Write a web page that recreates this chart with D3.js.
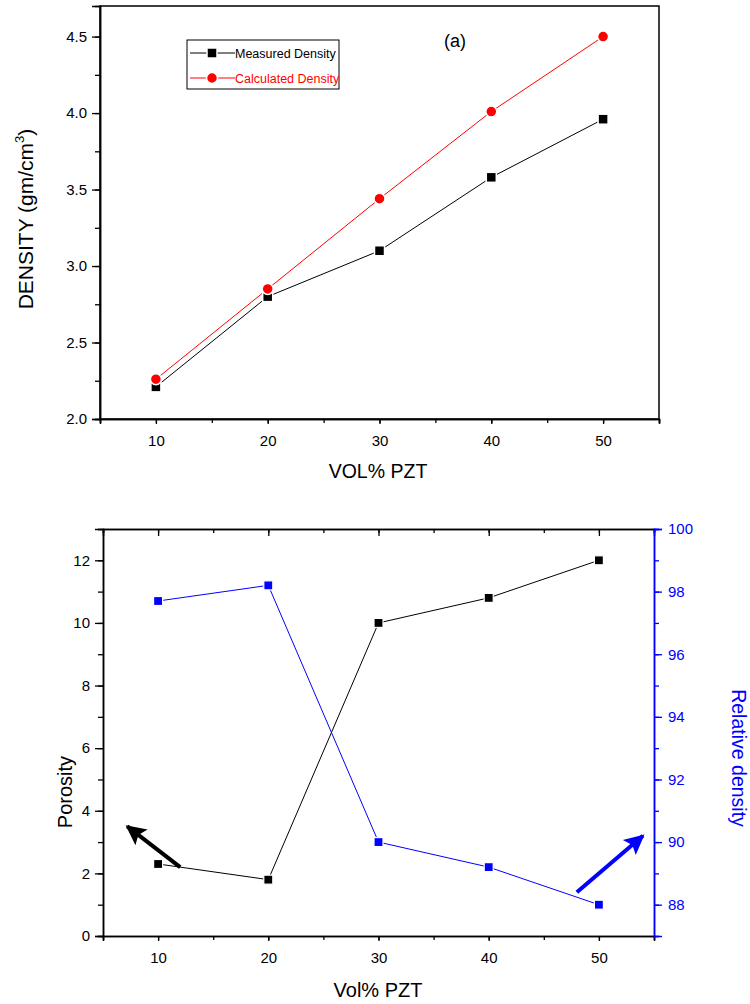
<!DOCTYPE html>
<html>
<head>
<meta charset="utf-8">
<script src="https://cdn.jsdelivr.net/npm/d3@7"></script>
<style>
  body { margin: 0; background: #fff; }
  svg { display: block; font-family: Arial, "Liberation Sans", sans-serif; }
</style>
</head>
<body>
<svg id="chart" width="750" height="1004"></svg>
<script>
// ---- data ----
var volPzt = [10, 20, 30, 40, 50];
var measuredDensity = [2.21, 2.80, 3.10, 3.58, 3.96];
var calculatedDensity = [2.26, 2.85, 3.44, 4.01, 4.50];
var porosity = [2.3, 1.8, 10.0, 10.8, 12.0];
var relativeDensity = [97.7, 98.2, 90.0, 89.2, 88.0];

var xTicks = [10, 20, 30, 40, 50];
var densityTicks = [2.0, 2.5, 3.0, 3.5, 4.0, 4.5];
var porosityTicks = [0, 2, 4, 6, 8, 10, 12];
var relTicks = [88, 90, 92, 94, 96, 98, 100];

// arrows in data units: [x0, y0, x1, y1]
var porosityArrow = [12, 2.2, 7.2, 3.5];
var relArrow = [48, 88.4, 54, 90.2];

var svg = d3.select("#chart");

/// helper: major + minor ticks for an axis
function drawAxis(g, axisFn, scale, majors, minors, color, fmt, bigTick, smallTick, pad) {
  g.call(axisFn(scale).tickValues(minors).tickSize(smallTick).tickFormat(""));
  g.append("g")
    .call(axisFn(scale).tickValues(majors).tickSize(bigTick).tickPadding(pad).tickFormat(fmt));
  g.selectAll("path").attr("stroke", color).attr("stroke-width", 1.5);
  g.selectAll("line").attr("stroke", color).attr("stroke-width", 1.3);
  g.selectAll("text").attr("fill", color).attr("font-size", 15)
    .attr("font-family", "Arial, 'Liberation Sans', sans-serif");
}

function range(a, b, step) {
  var out = [];
  for (var v = a; v <= b + 1e-9; v += step) out.push(+v.toFixed(3));
  return out;
}

// ================= top chart =================
var pa = {l: 100, r: 659, t: 6, b: 419};
var x1 = d3.scaleLinear().domain([5, 55]).range([pa.l, pa.r]);
var y1 = d3.scaleLinear().domain([2.0, 4.7]).range([pa.b, pa.t]);

var g1 = svg.append("g");
g1.append("rect").attr("x", pa.l).attr("y", pa.t)
  .attr("width", pa.r - pa.l).attr("height", pa.b - pa.t)
  .attr("fill", "none").attr("stroke", "#000").attr("stroke-width", 1.5);

drawAxis(g1.append("g").attr("transform", "translate(0," + pa.b + ")"),
  d3.axisBottom, x1, xTicks, range(5, 55, 5), "#000", d3.format("d"), 5, 4, 11);
drawAxis(g1.append("g").attr("transform", "translate(" + pa.l + ",0)"),
  d3.axisLeft, y1, densityTicks, range(2.0, 4.5, 0.25), "#000", d3.format(".1f"), 8, 5, 5);

var line1 = d3.line().x(function (d) { return x1(d[0]); }).y(function (d) { return y1(d[1]); });
var measPts = d3.zip(volPzt, measuredDensity);
var calcPts = d3.zip(volPzt, calculatedDensity);

g1.append("path").datum(measPts).attr("d", line1)
  .attr("fill", "none").attr("stroke", "#000").attr("stroke-width", 1);
g1.append("path").datum(calcPts).attr("d", line1)
  .attr("fill", "none").attr("stroke", "#f00").attr("stroke-width", 1);

g1.selectAll("rect.meas").data(measPts).enter().append("rect")
  .attr("class", "meas")
  .attr("x", function (d) { return x1(d[0]) - 5; })
  .attr("y", function (d) { return y1(d[1]) - 5; })
  .attr("width", 10).attr("height", 10)
  .attr("fill", "#000").attr("stroke", "#fff").attr("stroke-width", 1.5);
g1.selectAll("circle.calc").data(calcPts).enter().append("circle")
  .attr("class", "calc")
  .attr("cx", function (d) { return x1(d[0]); })
  .attr("cy", function (d) { return y1(d[1]); })
  .attr("r", 5.5)
  .attr("fill", "#f00").attr("stroke", "#fff").attr("stroke-width", 1.5);

// legend
var lg = g1.append("g").attr("transform", "translate(187,40)");
lg.append("rect").attr("width", 152).attr("height", 49)
  .attr("fill", "#fff").attr("stroke", "#000").attr("stroke-width", 1);
[["Measured Density", "#000", "square", 13], ["Calculated Density", "#f00", "circle", 38]].forEach(function (e) {
  lg.append("line").attr("x1", 3).attr("x2", 48).attr("y1", e[3]).attr("y2", e[3])
    .attr("stroke", e[1]).attr("stroke-width", 1);
  if (e[2] == "square")
    lg.append("rect").attr("x", 20).attr("y", e[3] - 5).attr("width", 10).attr("height", 10)
      .attr("fill", e[1]).attr("stroke", "#fff").attr("stroke-width", 1.5);
  else
    lg.append("circle").attr("cx", 25).attr("cy", e[3]).attr("r", 5.5)
      .attr("fill", e[1]).attr("stroke", "#fff").attr("stroke-width", 1.5);
  lg.append("text").attr("x", 48).attr("y", e[3] + 5).text(e[0])
    .attr("font-size", 12.5).attr("fill", e[1]);
});

g1.append("text").attr("x", 455).attr("y", 47).attr("text-anchor", "middle")
  .attr("font-size", 18).text("(a)");

g1.append("text").attr("x", 378).attr("y", 478).attr("text-anchor", "middle")
  .attr("font-size", 19.5).text("VOL% PZT");

var yl = g1.append("text").attr("transform", "translate(33,219) rotate(-90)")
  .attr("text-anchor", "middle").attr("font-size", 21);
yl.append("tspan").text("DENSITY (gm/cm");
yl.append("tspan").text("3").attr("font-size", 13).attr("dy", -9);
yl.append("tspan").text(")").attr("dy", 9);

// ================= bottom chart =================
var pb = {l: 103, r: 654, t: 529, b: 936};
var x2 = d3.scaleLinear().domain([5, 55]).range([pb.l, pb.r]);
var y2 = d3.scaleLinear().domain([0, 13]).range([pb.b, pb.t]);
var y3 = d3.scaleLinear().domain([87, 100]).range([pb.b, pb.t]);

var g2 = svg.append("g");

drawAxis(g2.append("g").attr("transform", "translate(0," + pb.b + ")"),
  d3.axisBottom, x2, xTicks, range(5, 55, 5), "#000", d3.format("d"), 5, 4, 11);
// top frame ticks point inward
drawAxis(g2.append("g").attr("transform", "translate(0," + pb.t + ")"),
  d3.axisBottom, x2, xTicks, range(5, 55, 5), "#000", function () { return ""; }, 7, 4, 0);

drawAxis(g2.append("g").attr("transform", "translate(" + pb.l + ",0)"),
  d3.axisLeft, y2, porosityTicks, range(0, 13, 1), "#000", d3.format("d"), 8, 5, 5);
drawAxis(g2.append("g").attr("transform", "translate(" + pb.r + ",0)"),
  d3.axisRight, y3, relTicks, range(87, 100, 1), "#00f", d3.format("d"), 8, 5, 6);

var line2 = d3.line().x(function (d) { return x2(d[0]); }).y(function (d) { return y2(d[1]); });
var line3 = d3.line().x(function (d) { return x2(d[0]); }).y(function (d) { return y3(d[1]); });
var porPts = d3.zip(volPzt, porosity);
var relPts = d3.zip(volPzt, relativeDensity);

g2.append("path").datum(porPts).attr("d", line2)
  .attr("fill", "none").attr("stroke", "#000").attr("stroke-width", 1);
g2.append("path").datum(relPts).attr("d", line3)
  .attr("fill", "none").attr("stroke", "#00f").attr("stroke-width", 1);

g2.selectAll("rect.por").data(porPts).enter().append("rect")
  .attr("class", "por")
  .attr("x", function (d) { return x2(d[0]) - 4.5; })
  .attr("y", function (d) { return y2(d[1]) - 4.5; })
  .attr("width", 9).attr("height", 9)
  .attr("fill", "#000").attr("stroke", "#fff").attr("stroke-width", 1.2);
g2.selectAll("rect.rel").data(relPts).enter().append("rect")
  .attr("class", "rel")
  .attr("x", function (d) { return x2(d[0]) - 4.5; })
  .attr("y", function (d) { return y3(d[1]) - 4.5; })
  .attr("width", 9).attr("height", 9)
  .attr("fill", "#00f").attr("stroke", "#fff").attr("stroke-width", 1.2);

// arrows
var defs = svg.append("defs");
[["headK", "#000"], ["headB", "#00f"]].forEach(function (m) {
  defs.append("marker").attr("id", m[0]).attr("viewBox", "0 0 10 10")
    .attr("refX", 9).attr("refY", 5).attr("markerWidth", 6).attr("markerHeight", 5)
    .attr("orient", "auto").attr("markerUnits", "strokeWidth")
    .append("path").attr("d", "M0,0 L10,5 L0,10 L2,5 Z").attr("fill", m[1]);
});
g2.append("line")
  .attr("x1", x2(porosityArrow[0])).attr("y1", y2(porosityArrow[1]))
  .attr("x2", x2(porosityArrow[2])).attr("y2", y2(porosityArrow[3]))
  .attr("stroke", "#000").attr("stroke-width", 4).attr("marker-end", "url(#headK)");
g2.append("line")
  .attr("x1", x2(relArrow[0])).attr("y1", y3(relArrow[1]))
  .attr("x2", x2(relArrow[2])).attr("y2", y3(relArrow[3]))
  .attr("stroke", "#00f").attr("stroke-width", 4).attr("marker-end", "url(#headB)");

g2.append("text").attr("x", 378).attr("y", 997).attr("text-anchor", "middle")
  .attr("font-size", 20).text("Vol% PZT");
g2.append("text").attr("transform", "translate(72,792) rotate(-90)")
  .attr("text-anchor", "middle").attr("font-size", 20).text("Porosity");
g2.append("text").attr("transform", "translate(732,758) rotate(90)")
  .attr("text-anchor", "middle").attr("font-size", 19.5).attr("fill", "#00f").text("Relative density");
</script>
</body>
</html>
